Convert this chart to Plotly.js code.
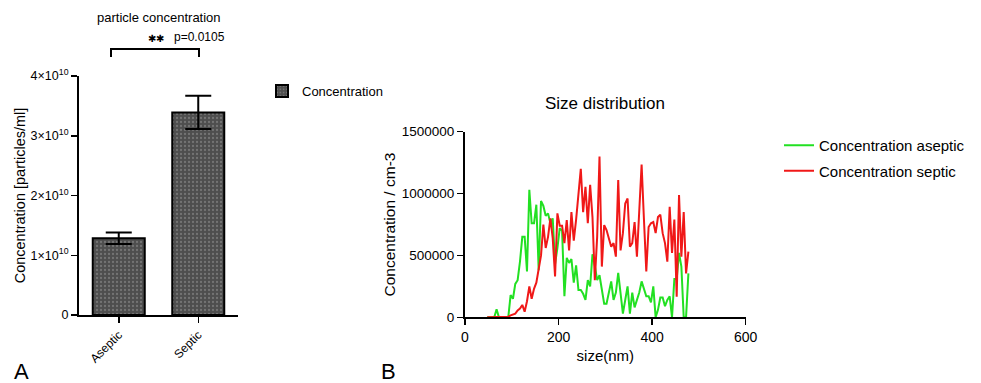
<!DOCTYPE html>
<html>
<head>
<meta charset="utf-8">
<script src="https://cdn.plot.ly/plotly-3.0.1.min.js"></script>
<style>html,body{margin:0;padding:0;background:#fff;}#chart{width:981px;height:383px;}</style>
</head>
<body>
<div id="chart"></div>
<script>
// ---- Panel A data ----
const groups = ['Aseptic', 'Septic'];
const concMean = [1.284e10, 3.39e10];
const concErr = [0.097e10, 0.279e10];
const aTickVals = [0, 1e10, 2e10, 3e10, 4e10];
const aTickText = ['0', '1×10<sup>10</sup>', '2×10<sup>10</sup>', '3×10<sup>10</sup>', '4×10<sup>10</sup>'];

// ---- Panel B data ----
const sizeNm = [47.5, 52.5, 57.5, 62.5, 67.5, 72.5, 77.5, 82.5, 87.5, 92.5,
  97.5, 102.5, 107.5, 112.5, 117.5, 122.5, 127.5, 132.5, 137.5, 142.5,
  147.5, 152.5, 157.5, 162.5, 167.5, 172.5, 177.5, 182.5, 187.5, 192.5,
  197.5, 202.5, 207.5, 212.5, 217.5, 222.5, 227.5, 232.5, 237.5, 242.5,
  247.5, 252.5, 257.5, 262.5, 267.5, 272.5, 277.5, 282.5, 287.5, 292.5,
  297.5, 302.5, 307.5, 312.5, 317.5, 322.5, 327.5, 332.5, 337.5, 342.5,
  347.5, 352.5, 357.5, 362.5, 367.5, 372.5, 377.5, 382.5, 387.5, 392.5,
  397.5, 402.5, 407.5, 412.5, 417.5, 422.5, 427.5, 432.5, 437.5, 442.5,
  447.5, 452.5, 457.5, 462.5, 467.5, 472.5, 477.5];
const concAseptic = [0, 0, 0, 0, 65000, 0, 0, 0, 0, 0,
  180000, 150000, 270000, 300000, 450000, 650000, 650000, 370000, 1030000, 760000,
  760000, 910000, 380000, 940000, 900000, 820000, 840000, 760000, 800000, 430000,
  560000, 720000, 700000, 170000, 480000, 440000, 470000, 280000, 420000, 220000,
  220000, 190000, 140000, 300000, 250000, 510000, 420000, 300000, 340000, 220000,
  110000, 110000, 200000, 290000, 140000, 200000, 360000, 200000, 30000, 140000,
  250000, 30000, 200000, 80000, 140000, 200000, 290000, 220000, 170000, 170000,
  120000, 250000, 0, 60000, 160000, 160000, 90000, 140000, 170000, 0,
  310000, 310000, 520000, 410000, 0, 0, 355000];
const concSeptic = [0, 0, 0, 0, 0, 0, 0, 0, 0, 5000,
  15000, 20000, 30000, 55000, 70000, 100000, 45000, 130000, 250000, 150000,
  230000, 280000, 400000, 500000, 750000, 560000, 650000, 800000, 640000, 330000,
  840000, 740000, 740000, 600000, 786000, 540000, 850000, 620000, 790000, 1000000,
  1200000, 850000, 1055000, 760000, 1070000, 810000, 300000, 650000, 1300000, 410000,
  745000, 705000, 625000, 570000, 600000, 490000, 1110000, 540000, 680000, 920000,
  960000, 570000, 600000, 770000, 490000, 840000, 1235000, 790000, 370000, 730000,
  760000, 770000, 680000, 810000, 830000, 680000, 600000, 450000, 894000, 520000,
  790000, 167000, 988000, 490000, 850000, 355000, 530000];
const bTickVals = [0, 500000, 1000000, 1500000];
const bTickText = ['0', '500000', '1000000', '1500000'];

const FONT = 'Liberation Sans, Arial, Helvetica, sans-serif';
const W = 981, H = 383;
const px = v => v / W;
const py = v => 1 - v / H;

const traces = [
  {
    type: 'bar', x: groups, y: concMean, name: 'Concentration',
    xaxis: 'x', yaxis: 'y', legend: 'legend', showlegend: true,
    marker: {
      color: '#4e4e4e',
      line: {color: '#000', width: 2},
      pattern: {shape: '.', fgcolor: '#747474', bgcolor: '#4e4e4e', size: 4, solidity: 0.25}
    },
    error_y: {type: 'data', array: concErr, visible: true, color: '#000', thickness: 2, width: 13}
  },
  {
    type: 'scatter', mode: 'lines', x: sizeNm, y: concAseptic, name: 'Concentration aseptic',
    xaxis: 'x2', yaxis: 'y2', legend: 'legend2', legendgroup: 'a', showlegend: true,
    line: {color: '#22e022', width: 2}
  },
  {
    type: 'scatter', mode: 'lines', x: sizeNm, y: concSeptic, name: 'Concentration septic',
    xaxis: 'x2', yaxis: 'y2', legend: 'legend2', legendgroup: 'b', showlegend: true,
    line: {color: '#f01818', width: 2}
  }
];

const axisCommon = {
  showline: true, linecolor: '#000', linewidth: 2, ticks: 'outside', ticklen: 6,
  tickwidth: 1.5, tickcolor: '#000', showgrid: false, zeroline: false, fixedrange: true
};

const layout = {
  width: W, height: H, autosize: false,
  margin: {l: 0, r: 0, t: 0, b: 0},
  paper_bgcolor: '#fff', plot_bgcolor: '#fff',
  font: {family: FONT, color: '#000'},
  showlegend: true,
  bargap: 0.346,
  xaxis: Object.assign({}, axisCommon, {
    domain: [px(79), px(238)], anchor: 'y', type: 'category', range: [-0.5, 1.5],
    tickangle: -45, tickfont: {size: 12}
  }),
  yaxis: Object.assign({}, axisCommon, {
    domain: [1 - 315 / H, 1 - 76 / H], anchor: 'x', range: [0, 4e10],
    tickvals: aTickVals, ticktext: aTickText, tickfont: {size: 12.5},
    title: {text: 'Concentration [particles/ml]', font: {size: 14.5}, standoff: 2}
  }),
  xaxis2: Object.assign({}, axisCommon, {
    domain: [px(465), px(745.7)], anchor: 'y2', range: [0, 600], dtick: 200,
    tickfont: {size: 14},
    title: {text: 'size(nm)', font: {size: 15}, standoff: 6}
  }),
  yaxis2: Object.assign({}, axisCommon, {
    domain: [1 - 317.3 / H, 1 - 131.7 / H], anchor: 'x2', range: [0, 1500000],
    tickvals: bTickVals, ticktext: bTickText, tickfont: {size: 13.5},
    title: {text: 'Concentration / cm-3', font: {size: 15.5}, standoff: 2}
  }),
  legend: {
    x: px(262), y: py(76), xanchor: 'left', yanchor: 'top',
    font: {size: 13}, bgcolor: 'rgba(0,0,0,0)'
  },
  legend2: {
    x: px(779), y: py(129), xanchor: 'left', yanchor: 'top',
    font: {size: 15}, bgcolor: 'rgba(0,0,0,0)', traceorder: 'grouped', tracegroupgap: 3
  },
  annotations: [
    {xref: 'paper', yref: 'paper', x: px(159), y: py(17), text: 'particle concentration',
     showarrow: false, font: {size: 13}, xanchor: 'center', yanchor: 'middle'},
    {xref: 'paper', yref: 'paper', x: px(156), y: py(39), text: '✱✱',
     showarrow: false, font: {size: 10}, xanchor: 'center', yanchor: 'middle'},
    {xref: 'paper', yref: 'paper', x: px(172), y: py(37), text: 'p=0.0105',
     showarrow: false, font: {size: 12}, xanchor: 'left', yanchor: 'middle'},
    {xref: 'paper', yref: 'paper', x: px(605), y: py(103), text: 'Size distribution',
     showarrow: false, font: {size: 17}, xanchor: 'center', yanchor: 'middle'},
    {xref: 'paper', yref: 'paper', x: px(12), y: py(371), text: 'A',
     showarrow: false, font: {size: 22}, xanchor: 'left', yanchor: 'middle'},
    {xref: 'paper', yref: 'paper', x: px(379), y: py(371), text: 'B',
     showarrow: false, font: {size: 22}, xanchor: 'left', yanchor: 'middle'}
  ],
  shapes: [
    {type: 'path', xref: 'paper', yref: 'paper',
     path: 'M' + px(111) + ',' + py(57) + ' L' + px(111) + ',' + py(49) + ' L' + px(199) + ',' + py(49) + ' L' + px(199) + ',' + py(57),
     line: {color: '#000', width: 2}}
  ]
};

Plotly.newPlot('chart', traces, layout, {displayModeBar: false, staticPlot: true});
</script>
</body>
</html>
